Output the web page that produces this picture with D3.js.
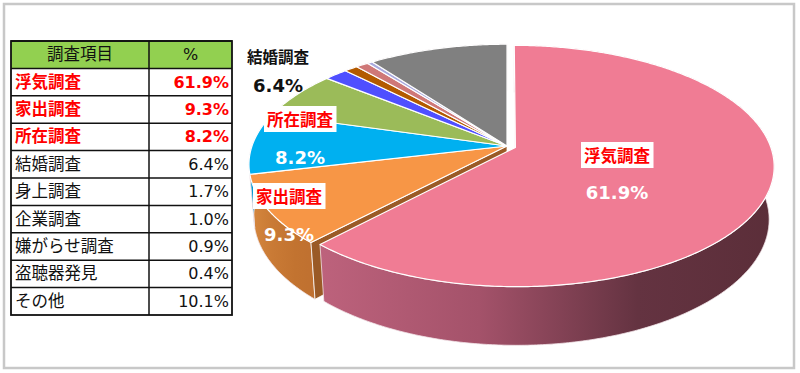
<!DOCTYPE html>
<html>
<head>
<meta charset="utf-8">
<script src="https://cdn.jsdelivr.net/npm/d3@7"></script>
<style>
  body { margin: 0; background: #fff; }
  svg { display: block; }
  text { font-family: "Noto Sans CJK JP", "Noto Sans", sans-serif; }
  text.num { font-family: "DejaVu Sans", "Noto Sans CJK JP", sans-serif; }
</style>
</head>
<body>
<div id="chart"></div>
<script>
// data
var categories = ["浮気調査", "家出調査", "所在調査", "結婚調査", "身上調査",
                  "企業調査", "嫌がらせ調査", "盗聴器発見", "その他"];
var values = [61.9, 9.3, 8.2, 6.4, 1.7, 1.0, 0.9, 0.4, 10.1];
var headers = ["調査項目", "%"];
var redRows = ["浮気調査", "家出調査", "所在調査"];
var labelled = ["浮気調査", "家出調査", "所在調査", "結婚調査"];

// colours
var topColors = ["#f07c94", "#f79646", "#00b0f0", "#9bbb59", "#4f4fff",
                 "#b35a00", "#cf7878", "#a9a9de", "#808080"];
var sideColors = [["#bd627c", "#a4526a", "#643341", "#5b2e39"],
                  ["#d6883f", "#c97a35", "#c27330", "#bf7030"],
                  ["#0aa0dc", "#0090c8", "#0082b6", "#007aa8"],
                  ["#8aa84e", "#7f9a48", "#748d42", "#6c833d"],
                  ["#4040d8", "#3838c0", "#3030a8", "#2c2c9c"],
                  ["#9a4d00", "#8c4600", "#804000", "#783c00"],
                  ["#b86a6a", "#a86060", "#985656", "#905050"],
                  ["#9090c4", "#8484b4", "#7878a4", "#70709a"],
                  ["#707070", "#666666", "#5c5c5c", "#555555"]];
var faceColors = ["#e9a4b2", "#9a5a26", "#0079a8", "#6e8a3c", "#3030a8",
                  "#783c00", "#905050", "#70709a", "#5e5e5e"];

// label layout (name box + value)
var labelSpots = {
  "浮気調査": {x: 617, y: 156, vy: 199, boxed: true, vcol: "#fff"},
  "家出調査": {x: 289, y: 197, vy: 241, boxed: true, vcol: "#fff"},
  "所在調査": {x: 300, y: 120, vy: 164, boxed: true, vcol: "#fff"},
  "結婚調査": {x: 278, y: 57, vy: 92, boxed: false, vcol: "#111"}
};

var W = 800, H = 373;
var svg = d3.select("#chart").append("svg")
    .attr("width", W)
    .attr("height", H);

// outer frame
svg.append("rect")
    .attr("x", 4).attr("y", 4)
    .attr("width", 790).attr("height", 364)
    .attr("fill", "#fff")
    .attr("stroke", "#c8c8c8")
    .attr("stroke-width", 2.5);

var fmt = function(v) { return d3.format(".1f")(v) + "%"; };

// ---------- table ----------
var rowScale = d3.scaleBand()
    .domain(["__head"].concat(categories))
    .range([41, 315]);
var colX = [11, 149, 232];

var tbl = svg.append("g");
rowScale.domain().forEach(function(key, i) {
    var y = rowScale(key), h = rowScale.bandwidth();
    var isHead = (i === 0);
    tbl.append("rect")
	.attr("x", colX[0]).attr("y", y)
	.attr("width", colX[2] - colX[0]).attr("height", h)
	.attr("fill", isHead ? "#92d050" : "#fff");
    var red = redRows.indexOf(key) >= 0;
    var col = red ? "#ff0000" : "#111";
    var wt = red ? "bold" : "normal";
    var by = y + h / 2 + 5.5;
    if (isHead) {
	tbl.append("text").attr("x", (colX[0] + colX[1]) / 2).attr("y", by)
	    .attr("text-anchor", "middle").attr("font-size", 16.5).attr("fill", "#111")
	    .text(headers[0]);
	tbl.append("text").attr("class", "num")
	    .attr("x", (colX[1] + colX[2]) / 2).attr("y", by)
	    .attr("text-anchor", "middle").attr("font-size", 16).attr("fill", "#111")
	    .text(headers[1]);
    } else {
	tbl.append("text").attr("x", colX[0] + 4).attr("y", by)
	    .attr("font-size", 16.5).attr("font-weight", wt).attr("fill", col)
	    .text(key);
	tbl.append("text").attr("class", "num")
	    .attr("x", colX[2] - 3).attr("y", by)
	    .attr("text-anchor", "end").attr("font-size", 16).attr("font-weight", wt)
	    .attr("fill", col)
	    .text(fmt(values[i - 1]));
    }
});
// grid lines
rowScale.domain().forEach(function(key) {
    tbl.append("line")
	.attr("x1", colX[0]).attr("x2", colX[2])
	.attr("y1", rowScale(key)).attr("y2", rowScale(key))
	.attr("stroke", "#111").attr("stroke-width", 1.5);
});
tbl.append("line").attr("x1", colX[1]).attr("x2", colX[1])
    .attr("y1", 41).attr("y2", 315)
    .attr("stroke", "#111").attr("stroke-width", 1.5);
tbl.append("rect")
    .attr("x", colX[0]).attr("y", 41)
    .attr("width", colX[2] - colX[0]).attr("height", 315 - 41)
    .attr("fill", "none").attr("stroke", "#111").attr("stroke-width", 1.8);

// ---------- 3D pie ----------
var cx = 507, cy = 146, R = 255;
var tilt = 27.4 * Math.PI / 180, focal = 1480, thick = 60, explode = 9;

function proj(X, Y, Z) {
    var v = Y * Math.cos(tilt) - Z * Math.sin(tilt);
    var depth = -Y * Math.sin(tilt) - Z * Math.cos(tilt);
    var s = focal / (focal + depth);
    return [cx + X * s, cy - v * s];
}
function rim(a, Y, o) {
    return proj(o.x + R * Math.sin(a), Y, o.z - R * Math.cos(a));
}
function arcPts(a0, a1, Y, o) {
    var n = Math.max(2, Math.ceil((a1 - a0) / 0.01)), pts = [];
    for (var i = 0; i <= n; i++) pts.push(rim(a0 + (a1 - a0) * i / n, Y, o));
    return pts;
}

var arcs = d3.pie().sort(null).value(function(d) { return d; })(values);
arcs.forEach(function(d, i) {
    var mid = (d.startAngle + d.endAngle) / 2;
    var e = i === 0 ? explode : 0;
    d.off = {x: e * Math.sin(mid), z: -e * Math.cos(mid)};
    d.name = categories[i];
});

var line = d3.line().curve(d3.curveLinearClosed);
var defs = svg.append("defs");

function wallPts(d) {
    return arcPts(d.startAngle, d.endAngle, 0, d.off)
	.concat(arcPts(d.startAngle, d.endAngle, -thick, d.off).reverse());
}
function facePts(d, a) {
    return [proj(d.off.x, 0, d.off.z), rim(a, 0, d.off),
	    rim(a, -thick, d.off), proj(d.off.x, -thick, d.off.z)];
}
function topPts(d) {
    return [proj(d.off.x, 0, d.off.z)].concat(arcPts(d.startAngle, d.endAngle, 0, d.off));
}

function drawWall(g, d, i) {
    var pts = wallPts(d);
    var xs = pts.map(function(p) { return p[0]; });
    var grad = defs.append("linearGradient")
	.attr("id", "wall" + i)
	.attr("gradientUnits", "userSpaceOnUse")
	.attr("x1", d3.min(xs)).attr("x2", d3.max(xs))
	.attr("y1", 0).attr("y2", 0);
    var stops = [0, 0.35, 0.7, 1];
    stops.forEach(function(s, k) {
	grad.append("stop").attr("offset", s).attr("stop-color", sideColors[i][k]);
    });
    g.append("path")
	.attr("d", line(pts))
	.attr("fill", "url(#wall" + i + ")")
	.attr("stroke", "#f3e6ea").attr("stroke-width", 0.8);
}

var rest = arcs.slice(1);
var gRest = svg.append("g");
// walls and exposed cut faces of the unexploded part
rest.forEach(function(d) { drawWall(gRest, d, arcs.indexOf(d)); });
gRest.append("path").attr("d", line(facePts(arcs[1], arcs[1].startAngle)))
    .attr("fill", faceColors[1]).attr("stroke", "#fff").attr("stroke-width", 0.8);
// tops
gRest.selectAll("path.top")
    .data(rest)
    .enter()
    .append("path")
    .attr("class", "top")
    .attr("d", function(d) { return line(topPts(d)); })
    .attr("fill", function(d) { return topColors[d.index]; })
    .attr("stroke", "#fff")
    .attr("stroke-width", 1.2)
    .attr("stroke-linejoin", "round");

// exploded slice
var big = arcs[0];
var gBig = svg.append("g");
gBig.append("path").attr("d", line(facePts(big, big.startAngle)))
    .attr("fill", faceColors[0]).attr("stroke", "#fff").attr("stroke-width", 0.8);
drawWall(gBig, big, 0);
gBig.append("path")
    .attr("d", line(topPts(big)))
    .attr("fill", topColors[0])
    .attr("stroke", "#fff")
    .attr("stroke-width", 1.2)
    .attr("stroke-linejoin", "round");

// ---------- labels ----------
var gLab = svg.append("g");
labelled.forEach(function(name) {
    var sp = labelSpots[name];
    var i = categories.indexOf(name);
    var t = gLab.append("text")
	.attr("x", sp.x).attr("y", sp.y + 6)
	.attr("text-anchor", "middle")
	.attr("font-size", sp.boxed ? 16.5 : 15.5)
	.attr("font-weight", "bold")
	.attr("fill", sp.boxed ? "#ff0000" : "#111")
	.text(name);
    if (sp.boxed) {
	var bb = t.node().getBBox();
	gLab.insert("rect", function() { return t.node(); })
	    .attr("x", bb.x - 3).attr("y", bb.y - 1)
	    .attr("width", bb.width + 6).attr("height", bb.height + 2)
	    .attr("fill", "#fff");
    }
    gLab.append("text")
	.attr("class", "num")
	.attr("x", sp.x).attr("y", sp.vy)
	.attr("text-anchor", "middle")
	.attr("font-size", 18)
	.attr("font-weight", "bold")
	.attr("fill", sp.vcol)
	.text(fmt(values[i]));
});
</script>
</body>
</html>
